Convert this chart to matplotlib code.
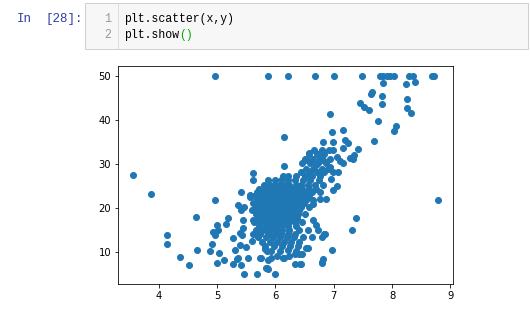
import matplotlib
matplotlib.use("Agg")
import matplotlib.pyplot as plt
from matplotlib.patches import Rectangle
from matplotlib.lines import Line2D

# ---------------- data (RM vs MEDV) ----------------
# sparse / outlying points
rm_sparse = [4.97, 5.87, 6.21, 6.68, 7.00, 7.48, 7.79, 7.84, 7.91, 7.96, 8.03, 8.29, 8.36, 8.68, 8.72,
             7.85, 8.24, 8.40, 7.66, 7.63, 7.82, 7.45, 7.52, 7.60, 7.82, 8.26, 8.25, 8.33, 6.94, 7.76,
             8.07, 8.03, 7.69, 6.14, 6.97, 7.15, 6.82, 7.42, 6.14, 7.33,
             7.20, 7.25, 6.99, 6.99, 7.16, 7.28, 7.34, 6.58, 6.78, 6.82, 6.54, 7.05, 7.10, 6.70, 6.93, 7.16,
             6.22, 6.13,
             8.78, 7.38, 7.32, 6.97, 6.82, 6.79, 6.44, 6.34, 6.00, 6.15, 6.55, 6.85, 6.41, 6.45,
             7.08, 7.05, 6.96, 6.98, 6.87, 6.76, 6.65, 6.65, 6.70, 6.73, 6.79, 6.84, 6.62,
             3.56, 3.86, 4.96, 4.63, 4.14, 4.14, 4.66, 4.36, 4.51, 4.88, 4.91, 5.03, 5.00, 5.11, 5.27,
             5.34, 5.41, 5.46, 5.68, 5.53, 5.75, 5.85, 5.88, 5.31, 5.27, 5.39, 4.99, 5.02, 4.93, 4.96,
             5.15, 5.19, 5.41, 5.36, 5.46, 5.45, 5.43, 5.50, 5.62, 5.57, 5.66, 5.61, 5.62, 5.41, 5.56,
             5.39, 5.36, 5.84, 5.59, 5.45, 5.74, 5.87, 5.93, 6.13, 6.42, 6.33, 5.86, 5.82, 6.22, 6.53,
             6.79]
medv_sparse = [50, 50, 50, 50, 50, 50, 50, 50, 50, 50, 50, 50, 50, 50, 50,
               48.4, 48.2, 48.6, 46.5, 45.9, 45.5, 43.9, 43.1, 42.3, 43.6, 44.8, 42.7, 41.6, 41.4, 39.8,
               38.6, 37.5, 35.3, 36.1, 37.3, 37.8, 35.0, 33.4, 29.6, 31.2,
               35.5, 34.7, 35.1, 33.2, 33.6, 31.3, 32.1, 32.6, 32.8, 30.9, 30.9, 31.7, 30.6, 29.8, 29.4, 30.2,
               27.2, 27.2,
               21.9, 17.7, 15.0, 10.4, 8.5, 7.4, 7.2, 7.2, 5.0, 8.6, 10.9, 14.1, 9.5, 9.5,
               28.3, 25.0, 26.6, 24.0, 22.0, 22.0, 20.9, 17.3, 16.2, 15.0, 13.5, 14.1, 13.5,
               27.5, 23.1, 21.8, 17.9, 13.9, 11.8, 10.4, 8.8, 7.0, 10.2, 11.8, 9.7, 7.4, 8.1, 7.2,
               8.4, 7.0, 5.0, 5.0, 8.6, 8.6, 10.2, 6.1, 10.4, 13.1, 14.3, 16.2, 15.0, 14.5, 13.9,
               16.4, 17.7, 23.6, 20.7, 20.2, 17.3, 13.9, 11.2, 17.3, 22.6, 23.0, 26.4, 27.9, 19.6, 23.0,
               11.6, 8.6, 6.3, 12.4, 15.4, 8.6, 8.2, 8.6, 8.6, 7.3, 9.5, 6.3, 10.6, 10.5, 10.9,
               7.8]

# dense core: RM values found along each MEDV level
core_medv = [33.3, 32.2, 31.1, 30.2, 29.0, 28.1, 27.3,
             26.4, 25.3, 24.4, 23.6, 22.7, 21.9, 21.1, 20.3, 19.5, 18.6, 17.8, 16.9, 16.0,
             15.1, 14.2, 13.3, 12.3, 11.4, 10.2, 9.1]
core_rm = [
    [6.66, 6.80, 6.91],
    [6.57, 6.71, 6.84],
    [6.51, 6.64, 6.77, 6.93],
    [6.46, 6.59, 6.73, 6.87],
    [6.52, 6.64, 6.79, 6.90],
    [6.44, 6.57, 6.71, 6.84, 6.98],
    [6.36, 6.50, 6.63, 6.76],
    [5.88, 6.00, 6.10, 6.21, 6.33, 6.47, 6.60, 6.74],
    [5.80, 5.90, 5.99, 6.07, 6.16, 6.24, 6.35, 6.44, 6.56, 6.67, 6.81],
    [5.72, 5.83, 5.91, 5.98, 6.05, 6.13, 6.20, 6.29, 6.37, 6.46, 6.57, 6.70],
    [5.68, 5.79, 5.87, 5.94, 6.02, 6.09, 6.17, 6.25, 6.33, 6.41, 6.52, 6.63, 6.76],
    [5.64, 5.75, 5.84, 5.91, 5.98, 6.06, 6.13, 6.21, 6.29, 6.38, 6.47, 6.58],
    [5.70, 5.80, 5.88, 5.95, 6.03, 6.10, 6.18, 6.26, 6.34, 6.42, 6.53, 6.64],
    [5.62, 5.74, 5.83, 5.91, 5.99, 6.06, 6.14, 6.22, 6.30, 6.39, 6.49],
    [5.67, 5.78, 5.87, 5.95, 6.02, 6.10, 6.17, 6.25, 6.34, 6.44, 6.57],
    [5.60, 5.72, 5.82, 5.90, 5.98, 6.06, 6.14, 6.22, 6.31, 6.41],
    [5.66, 5.77, 5.86, 5.94, 6.02, 6.10, 6.19, 6.28, 6.38, 6.50],
    [5.70, 5.81, 5.90, 5.99, 6.07, 6.16, 6.26, 6.37],
    [5.63, 5.76, 5.86, 5.95, 6.04, 6.13, 6.23, 6.34, 6.46],
    [5.72, 5.83, 5.93, 6.02, 6.12, 6.22, 6.36],
    [5.66, 5.79, 5.91, 6.01, 6.11, 6.24, 6.40, 6.55],
    [5.61, 5.74, 5.88, 5.99, 6.10, 6.21, 6.33],
    [5.70, 5.84, 5.96, 6.07, 6.19, 6.31, 6.47],
    [5.77, 5.90, 6.03, 6.15, 6.27, 6.40],
    [5.82, 5.97, 6.11, 6.25, 6.38],
    [5.93, 6.07, 6.36],
    [6.02, 6.24],
]

x = list(rm_sparse)
y = list(medv_sparse)
for level, row in zip(core_medv, core_rm):
    x.extend(row)
    y.extend([level] * len(row))

# ---------------- notebook cell text ----------------
prompt_in = "In"
prompt_num = "[28]:"
line_numbers = ["1", "2"]
code_line1 = "plt.scatter(x,y)"
code_line2 = "plt.show"
code_line2_paren = "()"

W, H = 530, 312
fig = plt.figure(figsize=(W / 72, H / 72), dpi=72)
fig.patch.set_facecolor("white")


def fx(px):
    return px / W


def fy(py):
    return 1 - py / H


mono = ["Liberation Mono", "DejaVu Sans Mono"]
fs = 11.5
cw = 0.6 * fs  # monospace advance width in px (dpi 72)

# cell box
fig.add_artist(Rectangle((fx(85), fy(49)), fx(528) - fx(85), fy(3) - fy(49),
                         transform=fig.transFigure, facecolor="#f7f7f7",
                         edgecolor="#cfcfcf", linewidth=1.0))
fig.add_artist(Line2D([fx(118.3), fx(118.3)], [fy(4), fy(48)], transform=fig.transFigure,
                      color="#dddddd", linewidth=1.0))

fig.text(fx(17), fy(19), prompt_in, family=mono, fontsize=12.5, color="#303F9F", va="center", ha="left")
fig.text(fx(45), fy(19), prompt_num, family=mono, fontsize=12.5, color="#303F9F", va="center", ha="left")
fig.text(fx(111), fy(19), line_numbers[0], family=mono, fontsize=fs, color="#999999", va="center", ha="right")
fig.text(fx(111), fy(35), line_numbers[1], family=mono, fontsize=fs, color="#999999", va="center", ha="right")
fig.text(fx(124), fy(19), code_line1, family=mono, fontsize=fs, color="black", va="center", ha="left")
fig.text(fx(124), fy(35), code_line2, family=mono, fontsize=fs, color="black", va="center", ha="left")
fig.text(fx(124 + cw * len(code_line2)), fy(35), code_line2_paren, family=mono, fontsize=fs,
         color="#00aa00", va="center", ha="left")

# ---------------- scatter plot ----------------
ax = fig.add_axes([fx(118), fy(283.8), (452.8 - 118) / W, (283.8 - 66.4) / H])
ax.scatter(x, y)
ax.tick_params(labelsize=10)

fig.savefig("out.png", dpi=72)
